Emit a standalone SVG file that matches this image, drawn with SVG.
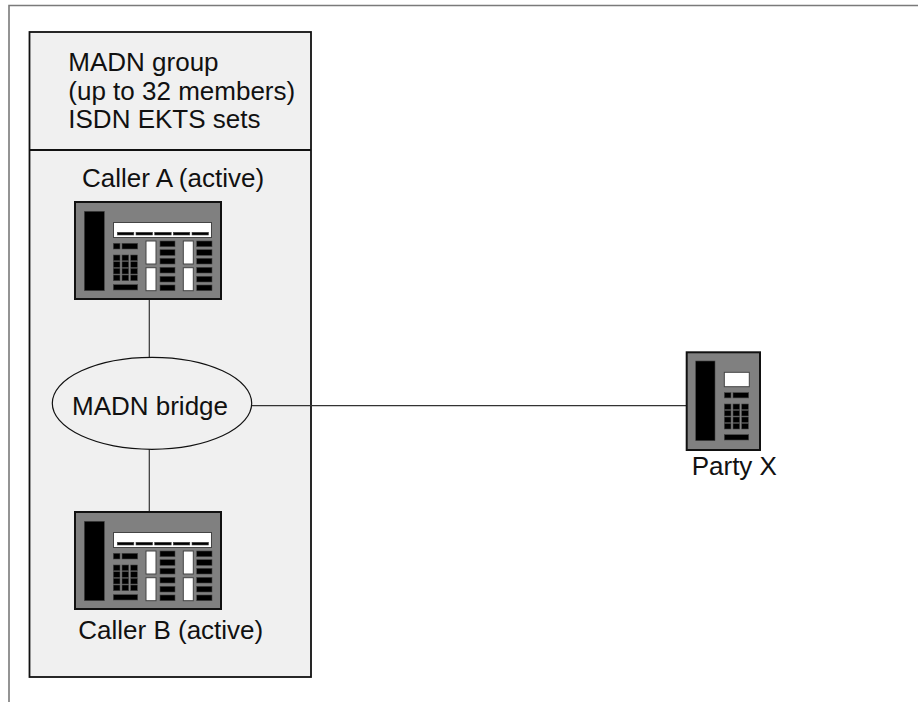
<svg xmlns="http://www.w3.org/2000/svg" xmlns:xlink="http://www.w3.org/1999/xlink" width="918" height="702" viewBox="0 0 918 702">
  <style>
    .lbl { font-family: "Liberation Sans", Arial, sans-serif; font-size: 26px; fill: #111; }
    .frame { fill: none; stroke: #7a7a7a; stroke-width: 1.6; }
    .group { fill: #f0f0f0; stroke: #111; stroke-width: 1.8; }
    .body { fill: #808080; stroke: #111; stroke-width: 2; }
    .blk { fill: #000; stroke: #444; stroke-width: 0.6; }
    .wht { fill: #fff; stroke: #444; stroke-width: 1; }
    .wire { fill: none; stroke: #333; stroke-width: 1.2; }
    .bridge { fill: none; stroke: #111; stroke-width: 1.2; }
  </style>
  <defs>
    <!-- ISDN EKTS desk set -->
    <g id="ekts">
      <rect class="body" x="0" y="0" width="146" height="97"/>
      <rect class="blk" x="9.3" y="9.3" width="20" height="79.4"/>
      <rect class="wht" x="38.5" y="20.5" width="98" height="15"/>
      <rect class="blk" x="42.3" y="30.3" width="16.5" height="2.7"/>
      <rect class="blk" x="61" y="30.3" width="16.5" height="2.7"/>
      <rect class="blk" x="79.7" y="30.3" width="16.5" height="2.7"/>
      <rect class="blk" x="98.3" y="30.3" width="16.5" height="2.7"/>
      <rect class="blk" x="117" y="30.3" width="16.5" height="2.7"/>
      <rect class="blk" x="38.3" y="41.3" width="6.7" height="5.7"/>
      <rect class="blk" x="47" y="41.3" width="15.7" height="5.7"/>
      <rect class="blk" x="38.3" y="53" width="6.7" height="5.7"/>
      <rect class="blk" x="47" y="53" width="6.7" height="5.7"/>
      <rect class="blk" x="55.7" y="53" width="6.7" height="5.7"/>
      <rect class="blk" x="38.3" y="59.7" width="6.7" height="5.7"/>
      <rect class="blk" x="47" y="59.7" width="6.7" height="5.7"/>
      <rect class="blk" x="55.7" y="59.7" width="6.7" height="5.7"/>
      <rect class="blk" x="38.3" y="66.3" width="6.7" height="5.7"/>
      <rect class="blk" x="47" y="66.3" width="6.7" height="5.7"/>
      <rect class="blk" x="55.7" y="66.3" width="6.7" height="5.7"/>
      <rect class="blk" x="38.3" y="73" width="6.7" height="5.7"/>
      <rect class="blk" x="47" y="73" width="6.7" height="5.7"/>
      <rect class="blk" x="55.7" y="73" width="6.7" height="5.7"/>
      <rect class="blk" x="38.3" y="82.7" width="24.4" height="5.3"/>
      <rect class="wht" x="71" y="39" width="10" height="23"/>
      <rect class="wht" x="71" y="65.7" width="10" height="23"/>
      <rect class="blk" x="85" y="39" width="15" height="5.7"/>
      <rect class="blk" x="85" y="47.7" width="15" height="5.7"/>
      <rect class="blk" x="85" y="56.3" width="15" height="5.7"/>
      <rect class="blk" x="85" y="65.3" width="15" height="5.7"/>
      <rect class="blk" x="85" y="74.3" width="15" height="5.7"/>
      <rect class="blk" x="85" y="83" width="15" height="5.7"/>
      <rect class="wht" x="108.3" y="39" width="10" height="23"/>
      <rect class="wht" x="108.3" y="65.7" width="10" height="23"/>
      <rect class="blk" x="121.7" y="39" width="15.3" height="5.7"/>
      <rect class="blk" x="121.7" y="47.7" width="15.3" height="5.7"/>
      <rect class="blk" x="121.7" y="56.3" width="15.3" height="5.7"/>
      <rect class="blk" x="121.7" y="65.3" width="15.3" height="5.7"/>
      <rect class="blk" x="121.7" y="74.3" width="15.3" height="5.7"/>
      <rect class="blk" x="121.7" y="83" width="15.3" height="5.7"/>
    </g>
    <!-- single-line set -->
    <g id="single">
      <rect class="body" x="0" y="0" width="73.3" height="97.7"/>
      <rect class="blk" x="9" y="8.7" width="19.3" height="79.7"/>
      <rect class="wht" x="37.6" y="20" width="25" height="14.4"/>
      <rect class="blk" x="37.6" y="40.4" width="6.7" height="5.2"/>
      <rect class="blk" x="46.3" y="40.4" width="15.7" height="5.2"/>
      <rect class="blk" x="37.6" y="51.7" width="6.7" height="5.5"/>
      <rect class="blk" x="46.3" y="51.7" width="6.7" height="5.5"/>
      <rect class="blk" x="55" y="51.7" width="6.7" height="5.5"/>
      <rect class="blk" x="37.6" y="58.2" width="6.7" height="5.5"/>
      <rect class="blk" x="46.3" y="58.2" width="6.7" height="5.5"/>
      <rect class="blk" x="55" y="58.2" width="6.7" height="5.5"/>
      <rect class="blk" x="37.6" y="64.7" width="6.7" height="5.5"/>
      <rect class="blk" x="46.3" y="64.7" width="6.7" height="5.5"/>
      <rect class="blk" x="55" y="64.7" width="6.7" height="5.5"/>
      <rect class="blk" x="37.6" y="71.2" width="6.7" height="5.5"/>
      <rect class="blk" x="46.3" y="71.2" width="6.7" height="5.5"/>
      <rect class="blk" x="55" y="71.2" width="6.7" height="5.5"/>
      <rect class="blk" x="37.6" y="82.4" width="24.4" height="5.3"/>
    </g>
  </defs>

  <rect x="0" y="0" width="918" height="702" fill="#fff"/>
  <path class="frame" d="M9 702 V5.5 H918"/>

  <g id="madn-group">
    <rect class="group" x="29.5" y="32" width="281.5" height="645"/>
    <line x1="29.5" y1="150" x2="311" y2="150" stroke="#111" stroke-width="1.8"/>
    <text class="lbl" x="68.3" y="70.7">MADN group</text>
    <text class="lbl" x="68.3" y="99.5">(up to 32 members)</text>
    <text class="lbl" x="68.3" y="128.3">ISDN EKTS sets</text>
  </g>

  <g id="connectors">
    <line class="wire" x1="149.3" y1="299" x2="149.3" y2="357.3"/>
    <line class="wire" x1="149.3" y1="449.3" x2="149.3" y2="512"/>
    <line class="wire" x1="251.7" y1="405.7" x2="686.7" y2="405.7"/>
  </g>

  <g id="caller-a">
    <text class="lbl" x="82" y="187.3">Caller A (active)</text>
    <use xlink:href="#ekts" x="75" y="202"/>
  </g>

  <g id="madn-bridge">
    <ellipse class="bridge" cx="152" cy="403.3" rx="99.7" ry="46"/>
    <text class="lbl" x="150" y="415.3" text-anchor="middle">MADN bridge</text>
  </g>

  <g id="caller-b">
    <use xlink:href="#ekts" x="75" y="512"/>
    <text class="lbl" x="78.3" y="639.3">Caller B (active)</text>
  </g>

  <g id="party-x">
    <use xlink:href="#single" x="686.7" y="352.3"/>
    <text class="lbl" x="691.7" y="475">Party X</text>
  </g>
</svg>
